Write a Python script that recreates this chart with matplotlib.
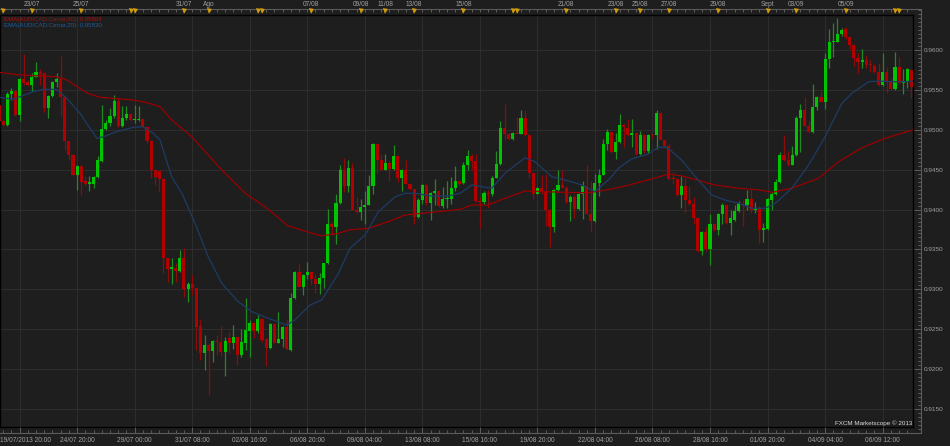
import numpy as np
import matplotlib
matplotlib.use('Agg')
import matplotlib.pyplot as plt
from matplotlib.ticker import FixedLocator, MultipleLocator

plt.rcParams['font.family'] = ['Liberation Sans', 'DejaVu Sans']

# AUD/CAD 4h candles
opens = [
    0.95313, 0.95104, 0.95063, 0.95446, 0.95492, 0.95188, 0.95633, 0.95604, 0.95563, 0.95667,
    0.95721, 0.95708, 0.95271, 0.95425, 0.95604, 0.95638, 0.95408, 0.94854, 0.94688, 0.94438,
    0.94550, 0.94354, 0.94325, 0.94325, 0.94408, 0.94604, 0.95008, 0.95083, 0.95167, 0.95363,
    0.95042, 0.95146, 0.95200, 0.95117, 0.95117, 0.95133, 0.95033, 0.94854, 0.94500, 0.94483,
    0.94388, 0.93388, 0.93250, 0.93271, 0.93233, 0.93392, 0.93004, 0.93067, 0.93013, 0.92542,
    0.92200, 0.92304, 0.92221, 0.92354, 0.92346, 0.92213, 0.92388, 0.92333, 0.92400, 0.92179,
    0.92333, 0.92483, 0.92575, 0.92479, 0.92625, 0.92375, 0.92263, 0.92567, 0.92333, 0.92379,
    0.92533, 0.92242, 0.92888, 0.93221, 0.93033, 0.93179, 0.93221, 0.93125, 0.93067, 0.93138,
    0.93325, 0.93813, 0.93783, 0.94083, 0.94500, 0.94296, 0.94521, 0.94000, 0.93971, 0.94033,
    0.94063, 0.94296, 0.94817, 0.94625, 0.94500, 0.94588, 0.94513, 0.94667, 0.94396, 0.94500,
    0.94325, 0.94254, 0.93908, 0.94125, 0.94313, 0.94083, 0.94208, 0.94229, 0.94042, 0.94138,
    0.94138, 0.94271, 0.94354, 0.94333, 0.94554, 0.94671, 0.94604, 0.94108, 0.94096, 0.94213,
    0.94192, 0.94400, 0.94567, 0.95025, 0.94950, 0.94879, 0.94963, 0.94950, 0.95146, 0.94929,
    0.94463, 0.94200, 0.94275, 0.94221, 0.94000, 0.93783, 0.94250, 0.94304, 0.94275, 0.94096,
    0.94158, 0.94013, 0.94200, 0.94292, 0.93950, 0.93858, 0.94338, 0.94438, 0.94817, 0.94971,
    0.94721, 0.94846, 0.95054, 0.95025, 0.94929, 0.94963, 0.94692, 0.94938, 0.94733, 0.94942,
    0.94929, 0.95213, 0.94875, 0.94796, 0.94400, 0.94379, 0.94188, 0.94292, 0.94117, 0.94067,
    0.93888, 0.93483, 0.93721, 0.93500, 0.93817, 0.93750, 0.93950, 0.94063, 0.93833, 0.93867,
    0.93979, 0.94075, 0.94063, 0.94138, 0.94000, 0.94021, 0.93742, 0.93758, 0.94125, 0.94192,
    0.94342, 0.94679, 0.94617, 0.94563, 0.94688, 0.95146, 0.95250, 0.95050, 0.94967, 0.95283,
    0.95417, 0.95354, 0.95883, 0.96100, 0.96104, 0.96196, 0.96258, 0.96158, 0.96063, 0.95904,
    0.95846, 0.95875, 0.95821, 0.95804, 0.95729, 0.95563, 0.95729, 0.95617, 0.95513, 0.95783,
    0.95583, 0.95604, 0.95750,
]
highs = [
    0.95333, 0.95125, 0.95479, 0.95521, 0.95500, 0.95646, 0.95946, 0.95625, 0.95708, 0.95854,
    0.95758, 0.95721, 0.95438, 0.95617, 0.95717, 0.95929, 0.95417, 0.94863, 0.94695, 0.94563,
    0.94563, 0.94417, 0.94417, 0.94417, 0.94667, 0.95313, 0.95125, 0.95271, 0.95438, 0.95396,
    0.95300, 0.95292, 0.95208, 0.95313, 0.95292, 0.95146, 0.95040, 0.94875, 0.94510, 0.94492,
    0.94395, 0.93395, 0.93388, 0.93325, 0.93492, 0.93521, 0.93096, 0.93179, 0.93020, 0.92625,
    0.92429, 0.92325, 0.92367, 0.92429, 0.92542, 0.92400, 0.92471, 0.92554, 0.92408, 0.92504,
    0.92888, 0.92617, 0.92596, 0.92679, 0.92638, 0.92388, 0.92575, 0.92575, 0.92713, 0.92542,
    0.92625, 0.92950, 0.93229, 0.93317, 0.93192, 0.93338, 0.93228, 0.93192, 0.93200, 0.93333,
    0.94013, 0.93846, 0.94192, 0.94554, 0.94650, 0.94617, 0.94583, 0.94158, 0.94129, 0.94229,
    0.94429, 0.94833, 0.94833, 0.94700, 0.94692, 0.94608, 0.94804, 0.94688, 0.94513, 0.94617,
    0.94330, 0.94263, 0.94150, 0.94325, 0.94325, 0.94221, 0.94388, 0.94242, 0.94283, 0.94354,
    0.94408, 0.94546, 0.94375, 0.94596, 0.94742, 0.94700, 0.94700, 0.94158, 0.94229, 0.94242,
    0.94417, 0.94729, 0.95108, 0.95325, 0.94963, 0.94971, 0.95158, 0.95242, 0.95242, 0.94950,
    0.94471, 0.94280, 0.94429, 0.94442, 0.94005, 0.94254, 0.94500, 0.94500, 0.94292, 0.94188,
    0.94179, 0.94208, 0.94354, 0.94563, 0.94354, 0.94450, 0.94513, 0.94888, 0.95013, 0.94983,
    0.94963, 0.95192, 0.95075, 0.95138, 0.95138, 0.94971, 0.94983, 0.94950, 0.94950, 0.94950,
    0.95250, 0.95221, 0.94888, 0.94825, 0.94471, 0.94388, 0.94417, 0.94400, 0.94292, 0.94158,
    0.93900, 0.93733, 0.93783, 0.93942, 0.93825, 0.93958, 0.94083, 0.94075, 0.93992, 0.94054,
    0.94104, 0.94125, 0.94242, 0.94263, 0.94100, 0.94042, 0.93833, 0.94146, 0.94217, 0.94383,
    0.94717, 0.94938, 0.94729, 0.94792, 0.95167, 0.95325, 0.95408, 0.95104, 0.95571, 0.95425,
    0.95488, 0.95958, 0.96258, 0.96333, 0.96400, 0.96271, 0.96292, 0.96167, 0.96071, 0.95958,
    0.96008, 0.95938, 0.95875, 0.95821, 0.95833, 0.95967, 0.95792, 0.95646, 0.95971, 0.95917,
    0.95758, 0.95771, 0.95758,
]
lows = [
    0.95092, 0.95050, 0.95050, 0.95375, 0.95175, 0.95113, 0.95563, 0.95554, 0.95492, 0.95658,
    0.95563, 0.95229, 0.95146, 0.95417, 0.95542, 0.95167, 0.94750, 0.94625, 0.94417, 0.94250,
    0.94188, 0.94292, 0.94229, 0.94271, 0.94396, 0.94592, 0.94992, 0.95042, 0.95146, 0.95033,
    0.95033, 0.95125, 0.95104, 0.95083, 0.95104, 0.95021, 0.94833, 0.94396, 0.94304, 0.94221,
    0.93208, 0.93096, 0.93067, 0.93096, 0.93221, 0.92908, 0.92846, 0.92929, 0.92242, 0.92117,
    0.91983, 0.91679, 0.92083, 0.92179, 0.92167, 0.91908, 0.92200, 0.92250, 0.92054, 0.92150,
    0.92242, 0.92150, 0.92396, 0.92450, 0.92346, 0.92033, 0.92250, 0.92325, 0.92325, 0.92271,
    0.92242, 0.92221, 0.92875, 0.93025, 0.92929, 0.93125, 0.93054, 0.92950, 0.92942, 0.93013,
    0.93317, 0.93679, 0.93567, 0.94075, 0.94221, 0.94221, 0.93992, 0.93958, 0.93875, 0.93825,
    0.94054, 0.94200, 0.94458, 0.94495, 0.94492, 0.94354, 0.94500, 0.94346, 0.94233, 0.94315,
    0.94242, 0.93825, 0.93900, 0.94075, 0.94054, 0.93875, 0.94054, 0.94033, 0.94025, 0.94025,
    0.94075, 0.94233, 0.94292, 0.94325, 0.94492, 0.94492, 0.94096, 0.93775, 0.94067, 0.94025,
    0.94171, 0.94396, 0.94554, 0.94875, 0.94875, 0.94875, 0.94942, 0.94942, 0.94925, 0.94400,
    0.94129, 0.94192, 0.94192, 0.93792, 0.93533, 0.93713, 0.94233, 0.94271, 0.94083, 0.93854,
    0.93900, 0.93992, 0.93879, 0.93942, 0.93721, 0.93838, 0.94167, 0.94429, 0.94750, 0.94713,
    0.94638, 0.94833, 0.94783, 0.94917, 0.94783, 0.94679, 0.94679, 0.94708, 0.94708, 0.94900,
    0.94763, 0.94867, 0.94783, 0.94375, 0.94325, 0.94167, 0.94025, 0.93958, 0.94054, 0.93825,
    0.93471, 0.93429, 0.93483, 0.93304, 0.93733, 0.93679, 0.93817, 0.93825, 0.93679, 0.93860,
    0.93971, 0.93792, 0.93992, 0.93958, 0.93958, 0.93575, 0.93592, 0.93750, 0.93992, 0.94179,
    0.94333, 0.94604, 0.94550, 0.94560, 0.94675, 0.94717, 0.95033, 0.94958, 0.94958, 0.95242,
    0.95342, 0.95258, 0.95771, 0.95917, 0.96100, 0.96175, 0.96133, 0.96008, 0.95800, 0.95717,
    0.95771, 0.95771, 0.95729, 0.95717, 0.95550, 0.95554, 0.95458, 0.95500, 0.95500, 0.95575,
    0.95450, 0.95521, 0.95396,
]
closes = [
    0.95104, 0.95063, 0.95450, 0.95488, 0.95188, 0.95633, 0.95592, 0.95563, 0.95667, 0.95721,
    0.95700, 0.95271, 0.95425, 0.95604, 0.95638, 0.95417, 0.94854, 0.94688, 0.94438, 0.94550,
    0.94342, 0.94325, 0.94342, 0.94408, 0.94617, 0.95008, 0.95083, 0.95175, 0.95363, 0.95042,
    0.95146, 0.95200, 0.95117, 0.95133, 0.95133, 0.95033, 0.94854, 0.94500, 0.94408, 0.94388,
    0.93388, 0.93250, 0.93275, 0.93233, 0.93392, 0.93004, 0.93067, 0.93013, 0.92533, 0.92200,
    0.92304, 0.92221, 0.92354, 0.92342, 0.92213, 0.92354, 0.92333, 0.92400, 0.92179, 0.92338,
    0.92492, 0.92575, 0.92479, 0.92625, 0.92367, 0.92263, 0.92567, 0.92333, 0.92379, 0.92533,
    0.92250, 0.92888, 0.93221, 0.93033, 0.93179, 0.93221, 0.93125, 0.93067, 0.93138, 0.93325,
    0.93813, 0.93783, 0.94083, 0.94500, 0.94296, 0.94521, 0.94000, 0.93971, 0.94033, 0.94063,
    0.94296, 0.94825, 0.94625, 0.94500, 0.94588, 0.94513, 0.94667, 0.94396, 0.94500, 0.94317,
    0.94254, 0.93908, 0.94125, 0.94313, 0.94083, 0.94208, 0.94229, 0.94042, 0.94138, 0.94150,
    0.94271, 0.94354, 0.94325, 0.94563, 0.94671, 0.94604, 0.94104, 0.94096, 0.94213, 0.94192,
    0.94400, 0.94575, 0.95025, 0.94950, 0.94879, 0.94963, 0.94950, 0.95146, 0.94929, 0.94463,
    0.94200, 0.94275, 0.94221, 0.94000, 0.93783, 0.94250, 0.94304, 0.94275, 0.94096, 0.94158,
    0.94013, 0.94200, 0.94292, 0.93950, 0.93858, 0.94338, 0.94438, 0.94817, 0.94971, 0.94721,
    0.94846, 0.95054, 0.95033, 0.94929, 0.94963, 0.94692, 0.94938, 0.94733, 0.94938, 0.94929,
    0.95213, 0.94875, 0.94796, 0.94388, 0.94379, 0.94188, 0.94292, 0.94117, 0.94067, 0.93888,
    0.93483, 0.93721, 0.93500, 0.93817, 0.93750, 0.93950, 0.94063, 0.93833, 0.93900, 0.93979,
    0.94083, 0.94054, 0.94138, 0.93992, 0.94021, 0.93742, 0.93771, 0.94133, 0.94200, 0.94346,
    0.94679, 0.94617, 0.94563, 0.94688, 0.95146, 0.95250, 0.95050, 0.94967, 0.95283, 0.95417,
    0.95354, 0.95883, 0.96104, 0.96113, 0.96196, 0.96250, 0.96167, 0.96063, 0.95896, 0.95846,
    0.95875, 0.95813, 0.95808, 0.95729, 0.95563, 0.95729, 0.95617, 0.95513, 0.95783, 0.95583,
    0.95604, 0.95758, 0.95542,
]

# EMA curves sampled along the chart (candle index, value)
ema80_idx = [0, 5.1, 14.1, 16.5, 21.4, 24.6, 27.7, 32.6, 36, 39.2, 42, 46.9, 54.2, 59.9,
             64.7, 70.4, 75.7, 78.5, 82.6, 85, 89.9, 94.7, 98.8, 102.8, 106.9, 112.2, 115,
             119, 123.1, 128, 132.8, 137.7, 143.4, 148.7, 152.3, 158, 162.9, 166.1, 169.3,
             174.2, 179.9, 185.2, 188.1, 192.9, 199.4, 204.3, 210, 215.6, 222.9]
ema80_val = [0.95720, 0.95687, 0.95665, 0.95624, 0.95461, 0.95407, 0.95395, 0.95373, 0.95340,
             0.95289, 0.95123, 0.94913, 0.94496, 0.94204, 0.94036, 0.93794, 0.93710, 0.93669,
             0.93702, 0.93744, 0.93765, 0.93848, 0.93932, 0.93953, 0.93973, 0.94003, 0.94057,
             0.94057, 0.94141, 0.94233, 0.94224, 0.94216, 0.94211, 0.94254, 0.94295, 0.94371,
             0.94446, 0.94421, 0.94379, 0.94308, 0.94267, 0.94245, 0.94216, 0.94267, 0.94392,
             0.94600, 0.94775, 0.94893, 0.95006]
ema20_idx = [0, 3.5, 5.1, 8.3, 10.8, 14.0, 16.5, 19.7, 23.8, 25.4, 28.6, 32.7, 35.1, 37.5,
             39.2, 42, 44.5, 47.7, 50.9, 54.2, 58.2, 61.5, 65.5, 70, 72, 75.7, 78.5, 82.6,
             85.4, 89.1, 92.3, 96.4, 98.8, 101.2, 105.3, 109.3, 112.2, 115, 119.9, 123.1,
             128, 130.4, 134.5, 137.7, 141.8, 145, 148.7, 150.7, 153.9, 158, 160.4, 162.5,
             166.1, 170.1, 173.4, 176.6, 179.9, 183.1, 186.4, 188.9, 192.9, 197, 201, 205.1,
             207.5, 211.6, 214, 217.3, 220.5, 222.9]
ema20_val = [0.95407, 0.95382, 0.95415, 0.95477, 0.95507, 0.95507, 0.95395, 0.95207, 0.94893,
             0.94913, 0.94976, 0.95031, 0.95039, 0.94956, 0.94872, 0.94412, 0.94204, 0.93828,
             0.93409, 0.93076, 0.92845, 0.92720, 0.92637, 0.92553, 0.92616, 0.92804, 0.92866,
             0.93201, 0.93515, 0.93681, 0.93973, 0.94161, 0.94204, 0.94204, 0.94170, 0.94170,
             0.94204, 0.94308, 0.94267, 0.94455, 0.94650, 0.94600, 0.94412, 0.94371, 0.94308,
             0.94224, 0.94392, 0.94517, 0.94634, 0.94696, 0.94780, 0.94780, 0.94621, 0.94371,
             0.94183, 0.94120, 0.94079, 0.94016, 0.94016, 0.94079, 0.94267, 0.94559, 0.94913,
             0.95332, 0.95457, 0.95603, 0.95611, 0.95603, 0.95603, 0.95615]

price_ticks = [0.915, 0.920, 0.925, 0.930, 0.935, 0.940, 0.945, 0.950, 0.955, 0.960]
grid_idx = [5, 19, 33, 47, 61, 75, 89, 103, 117, 131, 145, 159, 173, 187, 201, 215]
bottom_labels = ['19/07/2013 20:00', '24/07 20:00', '29/07 00:00', '31/07 08:00',
                 '02/08 16:00', '06/08 20:00', '09/08 04:00', '13/08 08:00',
                 '15/08 16:00', '19/08 20:00', '22/08 04:00', '26/08 08:00',
                 '28/08 16:00', '01/09 20:00', '04/09 04:00', '06/09 12:00']
top_idx = [8, 20, 45, 51, 76, 88, 94, 101, 113, 138, 150, 156, 163, 175, 187, 194, 206]
top_labels = ['23/07', '25/07', '31/07', 'Ago', '07/08', '09/08', '11/08', '13/08', '15/08',
              '21/08', '23/08', '25/08', '27/08', '29/08', 'Sept', '03/09', '05/09']
event_idx = [1, 8, 20, 32, 33, 45, 51, 63, 64, 76, 88, 94, 101, 113, 125, 126, 138, 150,
             156, 163, 175, 187, 194, 206, 218, 219]

BG = '#1e1e1e'
GRID = '#2d2d2d'
AXIS = '#5c5c5c'
TXT = '#a0a0a0'
GOLD = '#d19c0a'

W, H = 950.0, 446.0
STEP = 4.11   # pixels per candle
X0 = -1.0     # pixel column of the first candle


def px_rect(x0, y0, x1, y1):
    return [x0 / W, 1 - y1 / H, (x1 - x0) / W, (y1 - y0) / H]


def idx_at(px):
    return (px - X0) / STEP


def price_at(py):
    return 0.96 - (py - 50) / 7978.0


fig = plt.figure(figsize=(9.5, 4.46), dpi=100, facecolor=BG)

# main price panel
ax = fig.add_axes(px_rect(0, 15, 913, 427))
ax.set_facecolor(BG)
ax.set_xlim(idx_at(0), idx_at(913))
ax.set_ylim(price_at(427), price_at(15))
ax.set_xticks(grid_idx)
ax.set_yticks(price_ticks)
ax.grid(True, color=GRID, lw=0.8)
ax.set_axisbelow(True)
ax.tick_params(length=0, labelbottom=False, labelleft=False)
for s in ax.spines.values():
    s.set_color('black')
    s.set_linewidth(1.0)

o, h, l, c = map(np.array, (opens, highs, lows, closes))
x = np.arange(len(o))
up = c >= o
wick_col = np.where(up, '#1f8c1f', '#8c0c0c')
body_col = np.where(up, '#00c400', '#b20000')
ax.vlines(x, l, h, colors=wick_col, lw=0.9, zorder=3)
body_h = np.maximum(np.abs(c - o), 0.00012)
ax.bar(x, body_h, bottom=np.minimum(o, c), width=0.75, color=body_col, lw=0, zorder=4)

ax.plot(ema80_idx, ema80_val, color='#9a0000', lw=0.9, zorder=5)
ax.plot(ema20_idx, ema20_val, color='#1d3c66', lw=0.9, zorder=5)

# right price scale
ax_r = fig.add_axes(px_rect(913, 9, 921, 433))
ax_r.patch.set_visible(False)
ax_r.set_ylim(price_at(433), price_at(9))
for s in ['left', 'top', 'bottom']:
    ax_r.spines[s].set_visible(False)
ax_r.spines['right'].set_color(AXIS)
ax_r.yaxis.tick_right()
ax_r.set_yticks(price_ticks)
ax_r.set_yticklabels([f'{v:.4f}' for v in price_ticks])
ax_r.yaxis.set_minor_locator(MultipleLocator(0.0005))
ax_r.tick_params(axis='y', which='major', direction='in', length=5, width=0.7,
                 color=AXIS, labelsize=4.6, labelcolor=TXT, pad=2)
ax_r.tick_params(axis='y', which='minor', direction='in', length=2.5, width=0.7, color=AXIS)
ax_r.set_xticks([])

# bottom time scale
ax_b = fig.add_axes(px_rect(0, 427, 921, 433))
ax_b.patch.set_visible(False)
ax_b.set_xlim(idx_at(0), idx_at(921))
ax_b.set_ylim(0, 1)
for s in ['left', 'top', 'right']:
    ax_b.spines[s].set_visible(False)
ax_b.spines['bottom'].set_color(AXIS)
ax_b.set_xticks(grid_idx)
ax_b.set_xticklabels([])
ax_b.xaxis.set_minor_locator(FixedLocator(range(1, len(o), 2)))
ax_b.tick_params(axis='x', which='major', direction='in', length=4, width=0.7, color=AXIS)
ax_b.tick_params(axis='x', which='minor', direction='in', length=2, width=0.7, color=AXIS)
ax_b.set_yticks([])
tb = ax_b.get_xaxis_transform()
for k, (gi, lab) in enumerate(zip(grid_idx, bottom_labels)):
    if k == 0:
        ax_b.text(idx_at(0), -1.17, lab, transform=tb, ha='left', va='center',
                  fontsize=4.8, color=TXT, clip_on=False)
    else:
        ax_b.text(gi, -1.17, lab, transform=tb, ha='center', va='center',
                  fontsize=4.8, color=TXT, clip_on=False)

# top event band
ax_t = fig.add_axes(px_rect(0, 9, 921, 15))
ax_t.patch.set_visible(False)
ax_t.set_xlim(idx_at(0), idx_at(921))
ax_t.set_ylim(0, 1)
for s in ['left', 'bottom', 'right']:
    ax_t.spines[s].set_visible(False)
ax_t.spines['top'].set_color(AXIS)
ax_t.xaxis.tick_top()
ax_t.set_xticks([])
ax_t.xaxis.set_minor_locator(FixedLocator(range(1, len(o), 2)))
ax_t.tick_params(axis='x', which='minor', direction='in', length=2, width=0.7, color=AXIS)
ax_t.set_yticks([])
ax_t.vlines(event_idx, 0, 0.45, color='#0c0c0c', lw=0.9, clip_on=False, zorder=4)
ax_t.plot(event_idx, [0.62] * len(event_idx), 'v', ms=3.6, color=GOLD, mew=0,
          clip_on=False, zorder=5)
for ti, lab in zip(top_idx, top_labels):
    ax_t.text(ti, 1.78, lab, ha='center', va='center', fontsize=4.8, color=TXT,
              clip_on=False)

# indicator legend and watermark
fig.text(4 / W, 1 - 19 / H, 'EMA(AUD/CAD,Cerrar,80): 0.95864', color='#a01010',
         fontsize=4.4, va='center')
fig.text(4 / W, 1 - 25.7 / H, 'EMA(AUD/CAD,Cerrar,20): 0.95830', color='#1f5a9a',
         fontsize=4.4, va='center')
fig.text(912 / W, 1 - 423.3 / H, 'FXCM Marketscope \u00a9 2013', color='#d8d8d8',
         fontsize=4.5, ha='right', va='center')

fig.savefig('out.png', dpi=100, facecolor=BG)
